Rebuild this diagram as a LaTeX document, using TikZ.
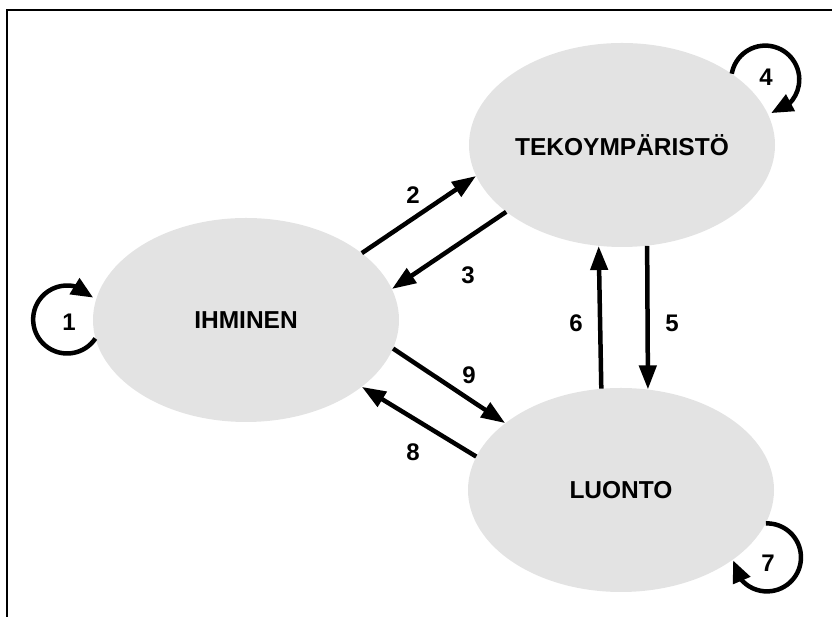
\documentclass[tikz,border=0pt]{standalone}
\usepackage{fontspec}
\setmainfont{Liberation Sans}
\usetikzlibrary{arrows.meta,bending,shapes.geometric}
\definecolor{blobgray}{RGB}{227,227,227}
\begin{document}
\begin{tikzpicture}[x=1pt,y=1pt,
  blob/.style={ellipse, fill=blobgray, inner sep=0pt,
    minimum width=306pt, minimum height=204pt,
    font=\fontsize{24.5}{29}\selectfont\bfseries},
  num/.style={font=\fontsize{24}{29}\selectfont\bfseries, inner sep=0pt},
  flow/.style={line width=4.5pt, -{Triangle[length=24pt,width=17pt]}},
  loopflow/.style={line width=4.5pt, -{Triangle[length=22pt,width=18pt,flex]}},
  frameline/.style={line width=2pt, line join=miter}]
\useasboundingbox (0,0) rectangle (832,617);

% open frame: left and top edges
\draw[frameline] (7,0) -- (7,607) -- (832,607);

% the three domains
\node[blob] (ihm) at (246,297) {IHMINEN};
\node[blob] (tek) at (622,472) {TEKOYMPÄRISTÖ};
\node[blob] (luo) at (621,127) {LUONTO};

% flows between domains
\draw[flow] (ihm.30.4)  -- (tek.192.4);
\draw[flow] (tek.210.8) -- (ihm.12);
\draw[flow] (ihm.-11.9) -- (luo.150.8);
\draw[flow] (luo.167.6) -- (ihm.-30);
\draw[flow] (luo.101.6) -- (tek.257.6);
\draw[flow] (tek.284)   -- (luo.75.6);

% self loops
\draw[loopflow] (ihm.187.6) arc[start angle=-34, end angle=-320, radius=34];
\draw[loopflow] (tek.33.9)  arc[start angle=170, end angle=-80, radius=34];
\draw[loopflow] (luo.-13.4) arc[start angle=92, end angle=-175, radius=34];

% flow numbers
\node[num] (n1) at (69,295)  {1};
\node[num] (n2) at (413,422) {2};
\node[num] (n3) at (468,342) {3};
\node[num] (n4) at (766,540) {4};
\node[num] (n5) at (672,294) {5};
\node[num] (n6) at (576,294) {6};
\node[num] (n7) at (768,54)  {7};
\node[num] (n8) at (413,165) {8};
\node[num] (n9) at (469,242) {9};
\end{tikzpicture}
\end{document}
